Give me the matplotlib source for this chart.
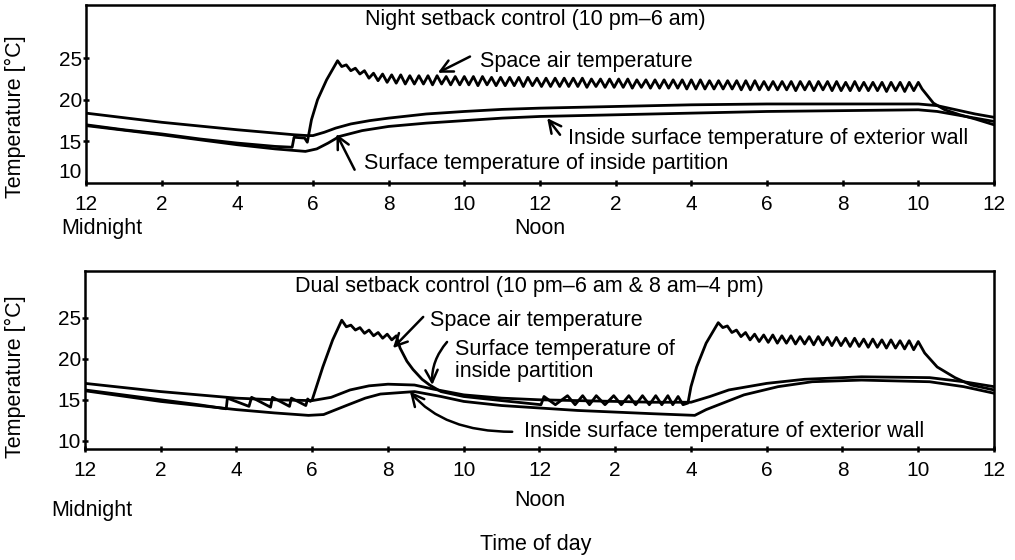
import matplotlib
matplotlib.use('Agg')
import matplotlib.pyplot as plt
from matplotlib.transforms import blended_transform_factory

plt.rcParams['font.family'] = ['Liberation Sans', 'DejaVu Sans']
plt.rcParams['font.size'] = 15.5

hour_ticks = [0, 2, 4, 6, 8, 10, 12, 14, 16, 18, 20, 22, 24]
hour_labels = ['12', '2', '4', '6', '8', '10', '12', '2', '4', '6', '8', '10', '12']

# ---- top panel: night setback (10 pm - 6 am)
top_part_h = [0, 2, 4, 5.5, 5.85, 6.0, 6.3, 6.6, 7, 7.5, 8, 9, 10, 11, 12, 14, 16, 18, 20, 22, 22.5, 23, 23.5, 24]
top_part_t = [18.4, 17.3, 16.4, 15.8, 15.7, 15.7, 16.1, 16.6, 17.1, 17.5, 17.8, 18.3, 18.6, 18.85, 19.0, 19.2, 19.4, 19.5, 19.5, 19.5, 19.3, 18.8, 18.3, 17.9]

top_wall_h = [0, 2, 4, 5, 5.8, 6.1, 6.4, 6.7, 7.3, 8, 9, 10, 11, 12, 14, 16, 18, 20, 22, 22.5, 23, 23.5, 24]
top_wall_t = [16.9, 15.8, 14.6, 14.1, 13.8, 14.1, 14.8, 15.6, 16.3, 16.8, 17.2, 17.5, 17.8, 18.0, 18.2, 18.4, 18.6, 18.7, 18.8, 18.6, 18.2, 17.8, 17.4]

top_air_h = [0, 1, 2, 3, 4, 5, 5.45, 5.5, 5.78, 5.85, 5.96, 6.12, 6.36, 6.65,
             6.76, 6.88,
             7.00, 7.12, 7.24, 7.36, 7.48, 7.60, 7.72, 7.84, 7.96, 8.08, 8.20, 8.32, 8.44, 8.56, 8.68, 8.80, 8.92, 9.04, 9.16, 9.28, 9.40, 9.52, 9.64, 9.76, 9.88,
             10.00, 10.12, 10.24, 10.36, 10.48, 10.60, 10.72, 10.84, 10.96, 11.08, 11.20, 11.32, 11.44, 11.56, 11.68, 11.80, 11.92, 12.04, 12.16, 12.28, 12.40, 12.52, 12.64, 12.76, 12.88,
             13.00, 13.12, 13.24, 13.36, 13.48, 13.60, 13.72, 13.84, 13.96, 14.08, 14.20, 14.32, 14.44, 14.56, 14.68, 14.80, 14.92, 15.04, 15.16, 15.28, 15.40, 15.52, 15.64, 15.76, 15.88,
             16.00, 16.12, 16.24, 16.36, 16.48, 16.60, 16.72, 16.84, 16.96, 17.08, 17.20, 17.32, 17.44, 17.56, 17.68, 17.80, 17.92, 18.04, 18.16, 18.28, 18.40, 18.52, 18.64, 18.76, 18.88,
             19.00, 19.12, 19.24, 19.36, 19.48, 19.60, 19.72, 19.84, 19.96, 20.08, 20.20, 20.32, 20.44, 20.56, 20.68, 20.80, 20.92, 21.04, 21.16, 21.28, 21.40, 21.52, 21.64, 21.76, 21.88,
             22.00, 22.1, 22.4, 22.7, 23.1, 23.5, 24.0]
top_air_t = [17.0, 16.4, 15.9, 15.3, 14.8, 14.4, 14.3, 15.5, 15.4, 14.9, 17.6, 20.0, 22.4, 24.7,
             24.0, 24.2,
             23.5, 23.8, 23.1, 23.5, 22.6, 23.2, 22.3, 23.1, 22.1, 23.0, 22.0, 23.0, 21.9, 22.9, 21.9, 22.9, 21.9, 22.9, 21.8, 22.9, 21.9, 22.8, 21.8, 22.8, 21.8,
             22.8, 21.8, 22.8, 21.7, 22.8, 21.8, 22.7, 21.7, 22.7, 21.7, 22.7, 21.7, 22.7, 21.6, 22.7, 21.7, 22.6, 21.6, 22.6, 21.6, 22.6, 21.6, 22.6, 21.6, 22.6,
             21.6, 22.6, 21.5, 22.5, 21.6, 22.5, 21.5, 22.5, 21.5, 22.5, 21.5, 22.5, 21.4, 22.4, 21.5, 22.4, 21.4, 22.4, 21.4, 22.4, 21.4, 22.4, 21.4, 22.4, 21.3,
             22.4, 21.3, 22.4, 21.3, 22.3, 21.3, 22.3, 21.3, 22.3, 21.3, 22.3, 21.2, 22.3, 21.2, 22.3, 21.2, 22.2, 21.2, 22.2, 21.2, 22.2, 21.2, 22.2, 21.1, 22.2,
             21.2, 22.2, 21.1, 22.2, 21.2, 22.2, 21.1, 22.2, 21.1, 22.1, 21.1, 22.2, 21.1, 22.1, 21.1, 22.1, 21.1, 22.1, 21.0, 22.1, 21.1, 22.1, 21.0, 22.1, 21.1,
             22.1, 21.3, 19.6, 18.8, 18.2, 17.7, 17.0]

# ---- bottom panel: dual setback (10 pm - 6 am & 8 am - 4 pm)
bot_part_h = [0, 2, 4, 5, 6, 6.5, 7, 7.5, 8, 8.7, 9.2, 10, 11, 12, 13, 14, 15, 16, 16.5, 17, 18, 19, 20.5, 22.3, 23.2, 24]
bot_part_t = [17.0, 16.0, 15.2, 15.0, 14.9, 15.3, 16.2, 16.7, 16.9, 16.8, 16.3, 15.6, 15.2, 15.0, 14.9, 14.8, 14.7, 14.7, 15.4, 16.2, 17.0, 17.5, 17.8, 17.7, 17.2, 16.6]

bot_wall_h = [0, 2, 4, 5, 5.9, 6.3, 6.9, 7.4, 7.8, 8.7, 9.4, 10, 11, 12, 13, 14, 15, 16.1, 16.4, 17.4, 18.3, 19.2, 20.5, 22.3, 23.2, 24]
bot_wall_t = [16.1, 14.8, 13.8, 13.4, 13.1, 13.2, 14.3, 15.2, 15.7, 16.0, 15.4, 14.8, 14.3, 14.0, 13.7, 13.5, 13.3, 13.1, 13.8, 15.6, 16.6, 17.2, 17.4, 17.2, 16.6, 15.8]

bot_air_h = [0, 1, 2, 3, 3.73, 3.76, 4.33, 4.4, 4.9, 4.95, 5.4, 5.45, 5.83, 5.88, 5.95, 6.0, 6.28, 6.54, 6.78,
             6.90, 7.02, 7.14, 7.26, 7.38, 7.50, 7.62, 7.74, 7.86, 7.98, 8.10, 8.22,
             8.32, 8.5, 8.66, 8.9, 9.1, 9.4, 10.0, 11.0, 12.04,
             12.12, 12.42, 12.74, 12.94, 13.14, 13.32, 13.50, 13.73, 13.96, 14.16, 14.36, 14.54, 14.72, 14.90, 15.07, 15.23, 15.39, 15.52, 15.66, 15.79,
             15.92, 16.0, 16.15, 16.4, 16.72,
             16.84, 16.96, 17.08, 17.20, 17.32, 17.44, 17.56, 17.68, 17.80, 17.92, 18.04, 18.16, 18.28, 18.40, 18.52, 18.64, 18.76, 18.88, 19.00, 19.12, 19.24, 19.36,
             19.48, 19.60, 19.72, 19.84, 19.96, 20.08, 20.20, 20.32, 20.44, 20.56, 20.68, 20.80, 20.92, 21.04, 21.16, 21.28, 21.40, 21.52, 21.64, 21.76, 21.88, 22.00,
             22.17, 22.5, 22.97, 23.4, 24.0]
bot_air_t = [16.2, 15.6, 15.0, 14.4, 13.9, 15.2, 14.2, 15.3, 14.1, 15.3, 14.2, 15.2, 14.3, 15.1, 14.8, 15.0, 19.0, 22.3, 24.7,
             23.9, 24.1, 23.5, 23.8, 23.1, 23.5, 22.8, 23.2, 22.5, 23.0, 22.3, 22.8,
             21.3, 19.7, 18.7, 17.5, 16.8, 16.0, 15.4, 14.9, 14.4,
             15.4, 14.4, 15.5, 14.4, 15.5, 14.4, 15.5, 14.4, 15.5, 14.4, 15.5, 14.4, 15.5, 14.4, 15.5, 14.4, 15.5, 14.4, 15.4, 14.4,
             14.6, 16.6, 19.0, 21.9, 24.4,
             23.8, 24.0, 23.2, 23.5, 22.7, 23.2, 22.3, 23.0, 22.1, 22.9, 22.0, 22.9, 21.9, 22.8, 21.9, 22.8, 21.8, 22.7, 21.8, 22.7, 21.7, 22.7,
             21.7, 22.6, 21.6, 22.6, 21.6, 22.5, 21.5, 22.5, 21.5, 22.4, 21.4, 22.4, 21.4, 22.3, 21.3, 22.3, 21.3, 22.2, 21.2, 22.2, 21.1, 22.1,
             20.7, 19.0, 17.7, 16.8, 16.2]

fig = plt.figure(figsize=(10.15, 5.6), dpi=100)
ax_top = fig.add_axes([0.0847, 0.6732, 0.8946, 0.3179])
ax_bot = fig.add_axes([0.0837, 0.1982, 0.8956, 0.3179])

lw = 2.0
arrow = dict(arrowstyle='->', lw=1.8, color='black', mutation_scale=22, shrinkA=0, shrinkB=0)

for ax in (ax_top, ax_bot):
    ax.set_xlim(0, 24)
    ax.set_xticks(hour_ticks)
    ax.set_xticklabels(hour_labels)
    for sp in ax.spines.values():
        sp.set_linewidth(1.8)
    ax.tick_params(axis='both', direction='inout', length=5, width=1.8, labelsize=15)
    ax.tick_params(axis='x', pad=6)
    ax.tick_params(axis='y', pad=0.5)

# top panel
ax_top.plot(top_part_h, top_part_t, color='black', lw=lw)
ax_top.plot(top_wall_h, top_wall_t, color='black', lw=lw)
ax_top.plot(top_air_h, top_air_t, color='black', lw=lw)
ax_top.set_ylim(10.0, 31.4)
ax_top.set_yticks([15, 20, 25])
ax_top.text(-0.0045, 11.3, '10', transform=blended_transform_factory(ax_top.transAxes, ax_top.transData),
            ha='right', va='center', fontsize=15)

ax_top.text(11.87, 29.6, 'Night setback control (10 pm\u20136 am)', ha='center', va='center')
ax_top.text(10.41, 24.6, 'Space air temperature', ha='left', va='center')
ax_top.annotate('', xy=(9.3, 23.25), xytext=(10.15, 25.2), arrowprops=arrow)
ax_top.text(12.74, 15.4, 'Inside surface temperature of exterior wall', ha='left', va='center')
ax_top.annotate('', xy=(12.19, 17.8), xytext=(12.53, 15.8), arrowprops=arrow)
ax_top.text(7.36, 12.4, 'Surface temperature of inside partition', ha='left', va='center')
ax_top.annotate('', xy=(6.62, 15.9), xytext=(7.1, 11.6), arrowprops=arrow)

tt = blended_transform_factory(ax_top.transData, ax_top.transAxes)
ax_top.text(-0.66, -0.253, 'Midnight', transform=tt, ha='left', va='center')
ax_top.text(12, -0.253, 'Noon', transform=tt, ha='center', va='center')

# bottom panel
ax_bot.plot(bot_part_h, bot_part_t, color='black', lw=lw)
ax_bot.plot(bot_wall_h, bot_wall_t, color='black', lw=lw)
ax_bot.plot(bot_air_h, bot_air_t, color='black', lw=lw)
ax_bot.set_ylim(9.0, 30.7)
ax_bot.set_yticks([10, 15, 20, 25])

ax_bot.text(5.54, 28.8, 'Dual setback control (10 pm\u20136 am & 8 am\u20134 pm)', ha='left', va='center')
ax_bot.text(9.11, 24.7, 'Space air temperature', ha='left', va='center')
ax_bot.annotate('', xy=(8.13, 21.3), xytext=(8.93, 25.1), arrowprops=arrow)
ax_bot.text(9.77, 19.8, 'Surface temperature of\ninside partition', ha='left', va='center', linespacing=1.05)
ax_bot.annotate('', xy=(9.17, 16.8), xytext=(9.56, 22.05),
                arrowprops=dict(arrow, connectionstyle='arc3,rad=0.2'))
ax_bot.text(11.58, 11.1, 'Inside surface temperature of exterior wall', ha='left', va='center')
ax_bot.annotate('', xy=(8.58, 16.0), xytext=(11.28, 11.1),
                arrowprops=dict(arrow, connectionstyle='angle3,angleA=0,angleB=-50'))

tb = blended_transform_factory(ax_bot.transData, ax_bot.transAxes)
ax_bot.text(-0.9, -0.343, 'Midnight', transform=tb, ha='left', va='center')
ax_bot.text(12, -0.287, 'Noon', transform=tb, ha='center', va='center')
ax_bot.text(11.9, -0.539, 'Time of day', transform=tb, ha='center', va='center')

fig.text(15 / 1015, 1 - 117 / 560, 'Temperature [\u00b0C]', rotation=90, ha='center', va='center')
fig.text(15 / 1015, 1 - 377 / 560, 'Temperature [\u00b0C]', rotation=90, ha='center', va='center')

fig.savefig('out.png', dpi=100)
